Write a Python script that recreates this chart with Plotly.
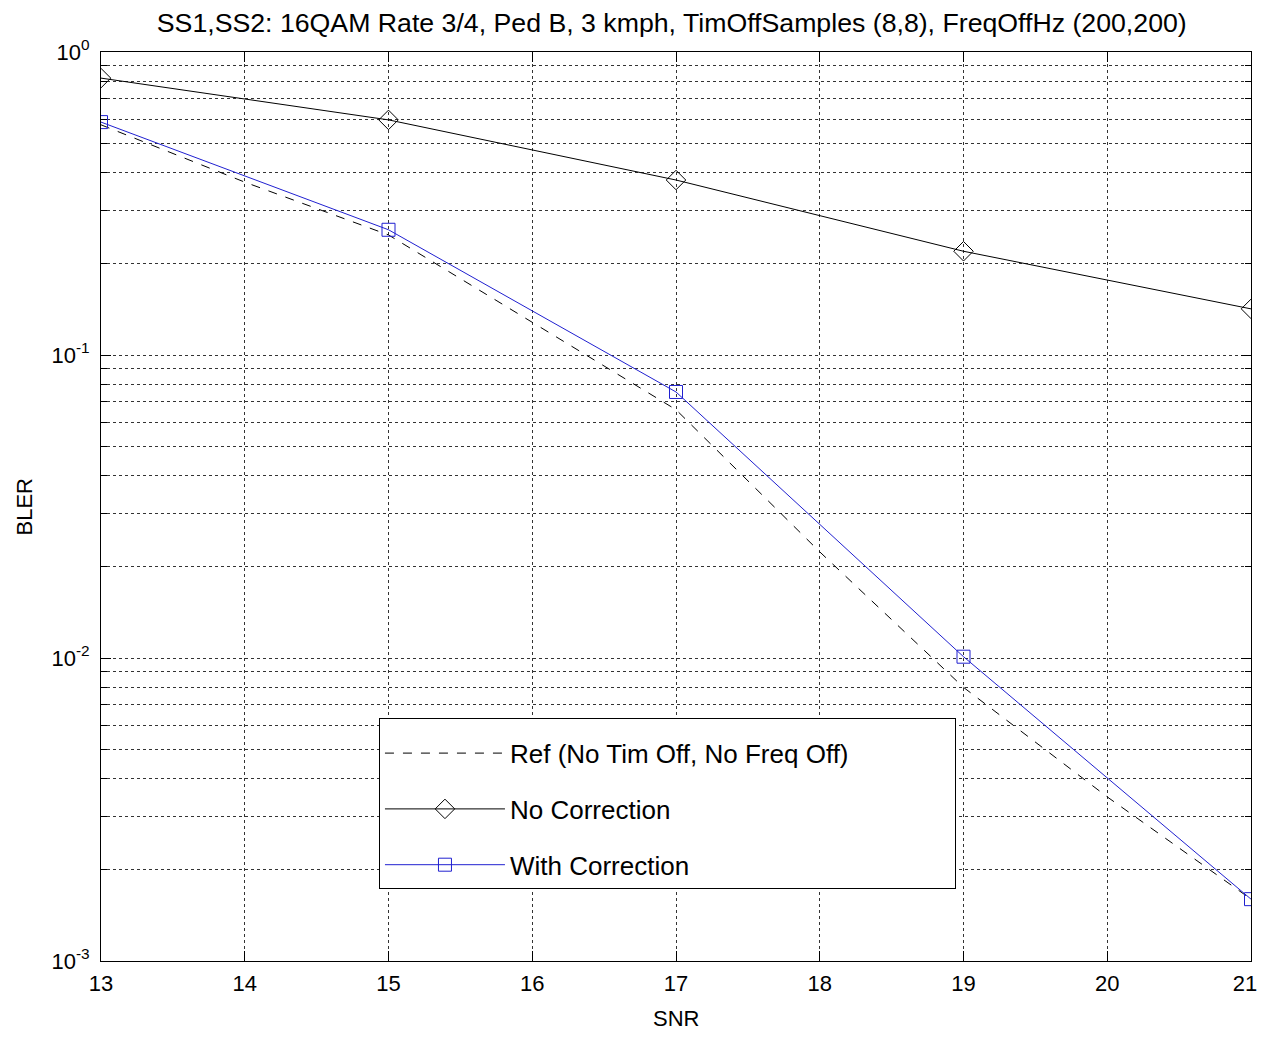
import plotly.graph_objects as go

snr = [13, 15, 17, 19, 21]
snr_ref = [13, 14, 15, 16, 17, 18, 19, 20, 21]
bler_ref = [0.575, 0.372, 0.249, 0.128, 0.066, 0.0224, 0.008, 0.00348, 0.0016]
bler_nocorr = [0.82, 0.597, 0.378, 0.22, 0.142]
bler_corr = [0.587, 0.259, 0.0755, 0.0101, 0.0016]

ytick_vals = [1e-3, 1e-2, 1e-1, 1]
ytick_text = ["10<sup>-3</sup>", "10<sup>-2</sup>", "10<sup>-1</sup>", "10<sup>0</sup>"]
xtick_vals = [13, 14, 15, 16, 17, 18, 19, 20, 21]
xtick_text = ["13", "14", "15", "16", "17", "18", "19", "20", "21\u00a0\u00a0"]
minor_vals = [m * d for d in (1e-3, 1e-2, 1e-1) for m in range(2, 10)]

FONT = "Liberation Sans, Arial, sans-serif"
PAD = "\u00a0" * 14

fig = go.Figure()
fig.add_trace(go.Scatter(
    x=snr_ref, y=bler_ref, mode="lines", name="Ref (No Tim Off, No Freq Off)" + PAD,
    legendgroup="a",
    line=dict(color="black", width=1, dash="dash")))
fig.add_trace(go.Scatter(
    x=snr, y=bler_nocorr, mode="lines+markers", name="No Correction",
    legendgroup="b",
    line=dict(color="black", width=1),
    marker=dict(symbol="diamond-open", size=15, color="black", line=dict(width=1))))
fig.add_trace(go.Scatter(
    x=snr, y=bler_corr, mode="lines+markers", name="With Correction",
    legendgroup="c",
    line=dict(color="#2020d0", width=1),
    marker=dict(symbol="square-open", size=13, color="#2020d0", line=dict(width=1))))

fig.update_layout(
    width=1250, height=1023,
    margin=dict(l=93, r=7, t=44, b=70),
    paper_bgcolor="white", plot_bgcolor="white",
    font=dict(family=FONT, size=20, color="black"),
    title=dict(text="SS1,SS2: 16QAM Rate 3/4, Ped B, 3 kmph, TimOffSamples (8,8), FreqOffHz (200,200)",
               x=0.531, xanchor="center", y=0.986, yanchor="middle",
               font=dict(family=FONT, size=26.7, color="black")),
    showlegend=True,
    legend=dict(x=0.2417, y=0.267, xanchor="left", yanchor="top",
                bgcolor="white", bordercolor="black", borderwidth=1,
                font=dict(family=FONT, size=26, color="black"),
                title=dict(text=" ", font=dict(size=8)),
                itemwidth=120, tracegroupgap=19),
    annotations=[
        dict(text="SNR", xref="paper", yref="paper", x=0.5, y=-0.0638,
             xanchor="center", yanchor="middle", showarrow=False,
             font=dict(family=FONT, size=22, color="black")),
        dict(text="BLER", xref="paper", yref="paper", x=-0.0661, y=0.5,
             xanchor="center", yanchor="middle", showarrow=False, textangle=-90,
             font=dict(family=FONT, size=22, color="black")),
    ],
)

fig.update_xaxes(
    range=[13, 21], tickvals=xtick_vals, ticktext=xtick_text, automargin=False,
    ticklabeloverflow="allow",
    showline=True, linecolor="black", linewidth=1, mirror="allticks",
    ticks="inside", ticklen=10, tickcolor="black",
    showgrid=True, gridcolor="#333333", griddash="dot", gridwidth=1,
    zeroline=False, ticklabelstandoff=3,
    tickfont=dict(family=FONT, size=22),
)
fig.update_yaxes(
    type="log", range=[-3, 0], tickvals=ytick_vals, ticktext=ytick_text,
    automargin=False, ticklabeloverflow="allow",
    showline=True, linecolor="black", linewidth=1, mirror="allticks",
    ticks="inside", ticklen=10, tickcolor="black",
    showgrid=True, gridcolor="#333333", griddash="dot", gridwidth=1,
    zeroline=False, ticklabelstandoff=6,
    minor=dict(tickvals=minor_vals, ticks="inside", ticklen=6, tickcolor="black",
               showgrid=True, gridcolor="#333333", griddash="dot", gridwidth=1),
    tickfont=dict(family=FONT, size=22),
)

fig.write_html("out.html")
